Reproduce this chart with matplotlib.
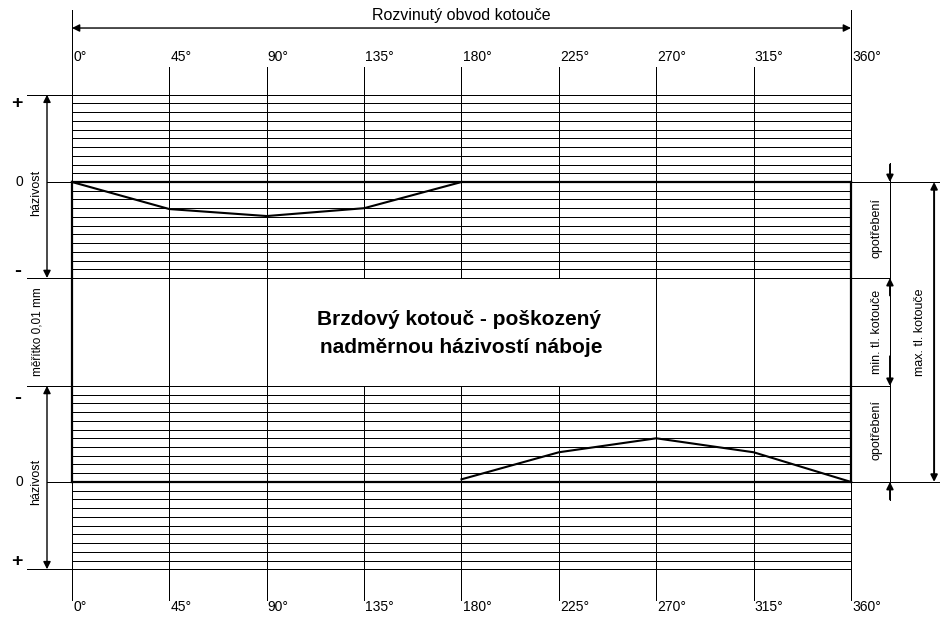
import matplotlib
matplotlib.use("Agg")
import matplotlib.pyplot as plt
from matplotlib.patches import Rectangle

plt.rcParams['font.family'] = ['Liberation Sans', 'DejaVu Sans']

# ---- data ----
angles = [0, 45, 90, 135, 180, 225, 270, 315, 360]
angle_labels = ["0°", "45°", "90°", "135°", "180°", "225°", "270°", "315°", "360°"]
top_angles = [0, 45, 90, 135, 180]
top_runout = [0.0, -3.1, -3.9, -3.0, 0.0]          # in 0.01 mm divisions
bottom_angles = [180, 225, 270, 315, 360]
bottom_runout = [-0.3, -3.4, -5.0, -3.4, 0.0]      # in 0.01 mm divisions
plus_divs = 10      # divisions on "+" side
minus_divs = 11     # divisions on "-" side

title_text = "Rozvinutý obvod kotouče"
center_text1 = "Brzdový kotouč - poškozený"
center_text2 = "nadměrnou házivostí náboje"

# ---- layout ----
Y0B = -34.36   # bottom zero line (in divisions)
fig = plt.figure(figsize=(9.4, 6.32), dpi=100)
ax = fig.add_axes([0, 0, 1, 1])
ax.set_xlim(-33.27, 401.13)
ax.set_ylim(-51.55, 20.85)
ax.axis('off')

K = 'black'
LW = 0.72
MID_TOP = -minus_divs
MID_BOT = Y0B + minus_divs

# horizontal hatch lines top block
for k in range(-minus_divs, plus_divs + 1):
    ax.plot([0, 360], [k, k], color=K, lw=LW, zorder=1)
# bottom block: "-" upward, "+" downward
for k in range(-minus_divs, plus_divs + 1):
    ax.plot([0, 360], [Y0B - k, Y0B - k], color=K, lw=LW, zorder=1)

# outer extension lines on the left
for yv in [plus_divs, MID_TOP, MID_BOT, Y0B - plus_divs]:
    ax.plot([-20.8, 0], [yv, yv], color=K, lw=LW)
# zero lines extension
for yv in [0, Y0B]:
    ax.plot([-11.55, 401.13], [yv, yv], color=K, lw=LW)
# right lines at wear limits
for yv in [MID_TOP, MID_BOT]:
    ax.plot([360, 378.0], [yv, yv], color=K, lw=LW)

# vertical lines (interrupted by the centre box between 90° and 270°)
for a in angles:
    top = 19.70 if a in (0, 360) else 13.17
    if 90 < a < 270:
        ax.plot([a, a], [top, MID_TOP], color=K, lw=LW, zorder=1)
        ax.plot([a, a], [MID_BOT, -47.88], color=K, lw=LW, zorder=1)
    else:
        ax.plot([a, a], [top, -47.88], color=K, lw=LW, zorder=1)

# thick rectangle
ax.plot([0, 360], [0, 0], color=K, lw=1.6, zorder=3)
ax.plot([0, 360], [Y0B, Y0B], color=K, lw=1.6, zorder=3)
ax.plot([0, 0], [0, Y0B], color=K, lw=1.6, zorder=3)
ax.plot([360, 360], [0, Y0B], color=K, lw=1.6, zorder=3)

# centre box
ax.add_patch(Rectangle((90, MID_BOT), 180, MID_TOP - MID_BOT, facecolor='white',
                       edgecolor=K, lw=LW, zorder=2))
ax.text(179, -16.38, center_text1, ha='center', va='baseline', fontsize=15,
        fontweight='bold', zorder=4)
ax.text(180, -19.6, center_text2, ha='center', va='baseline', fontsize=15,
        fontweight='bold', zorder=4)

# curves
ax.plot(top_angles, top_runout, color=K, lw=1.5, zorder=4)
ax.plot(bottom_angles, [Y0B - r for r in bottom_runout], color=K, lw=1.5, zorder=4)

# angle labels
for a, lab in zip(angles, angle_labels):
    ax.text(a + 0.5, 14.32, lab, ha='left', va='center', fontsize=10)
    ax.text(a + 0.5, -48.68, lab, ha='left', va='center', fontsize=10)

# title arrow
ap2 = dict(arrowstyle='<|-|>', color=K, lw=1.0, mutation_scale=11,
           shrinkA=0, shrinkB=0)
ax.annotate('', xy=(0, 17.64), xytext=(360, 17.64), arrowprops=ap2)
ax.text(180, 18.6, title_text, ha='center', va='baseline', fontsize=11.5)

# left dimension arrows
ax.annotate('', xy=(-11.55, plus_divs), xytext=(-11.55, MID_TOP), arrowprops=ap2)
ax.annotate('', xy=(-11.55, MID_BOT), xytext=(-11.55, Y0B - plus_divs),
            arrowprops=ap2)

# left labels
ax.text(-25.3, 9.05, '+', ha='center', va='center', fontsize=14, fontweight='bold')
ax.text(-24.3, 0, '0', ha='center', va='center', fontsize=10)
ax.text(-25.3, -10.1, '-', ha='center', va='center', fontsize=15, fontweight='bold')
ax.text(-25.3, -24.7, '-', ha='center', va='center', fontsize=15, fontweight='bold')
ax.text(-24.3, Y0B, '0', ha='center', va='center', fontsize=10)
ax.text(-25.3, -43.5, '+', ha='center', va='center', fontsize=14, fontweight='bold')
ax.text(-16.8, -1.2, 'házivost', ha='center', va='center', rotation=90, fontsize=9)
ax.text(-16.8, Y0B, 'házivost', ha='center', va='center', rotation=90, fontsize=9)
ax.text(-15.9, -17.18, 'měřítko 0,01 mm', ha='center', va='center', rotation=90,
        fontsize=8.5)

# right dimension (wear / min thickness)
XR = 378.0
ax.plot([XR, XR], [2.18, -36.4], color=K, lw=LW)
ap1 = dict(arrowstyle='-|>', color=K, lw=1.3, mutation_scale=10,
           shrinkA=0, shrinkB=0)
ax.annotate('', xy=(XR, 0), xytext=(XR, 2.0), arrowprops=ap1)
ax.annotate('', xy=(XR, MID_TOP), xytext=(XR, MID_TOP - 2.0), arrowprops=ap1)
ax.annotate('', xy=(XR, MID_BOT), xytext=(XR, MID_BOT + 3.4), arrowprops=ap1)
ax.annotate('', xy=(XR, Y0B), xytext=(XR, Y0B - 2.0), arrowprops=ap1)
ax.text(372.0, -5.3, 'opotřebení', ha='center', va='center', rotation=90, fontsize=9)
ax.text(372.0, -17.2, 'min. tl. kotouče', ha='center', va='center', rotation=90,
        fontsize=9)
ax.text(372.0, -28.4, 'opotřebení', ha='center', va='center', rotation=90, fontsize=9)

# max thickness
XM = 398.4
ax.annotate('', xy=(XM, 0), xytext=(XM, Y0B),
            arrowprops=dict(arrowstyle='<|-|>', color=K, lw=1.4, mutation_scale=10,
                            shrinkA=0, shrinkB=0))
ax.text(391.9, -17.2, 'max. tl. kotouče', ha='center', va='center', rotation=90,
        fontsize=9)

fig.savefig('out.png', dpi=100, facecolor='white')
